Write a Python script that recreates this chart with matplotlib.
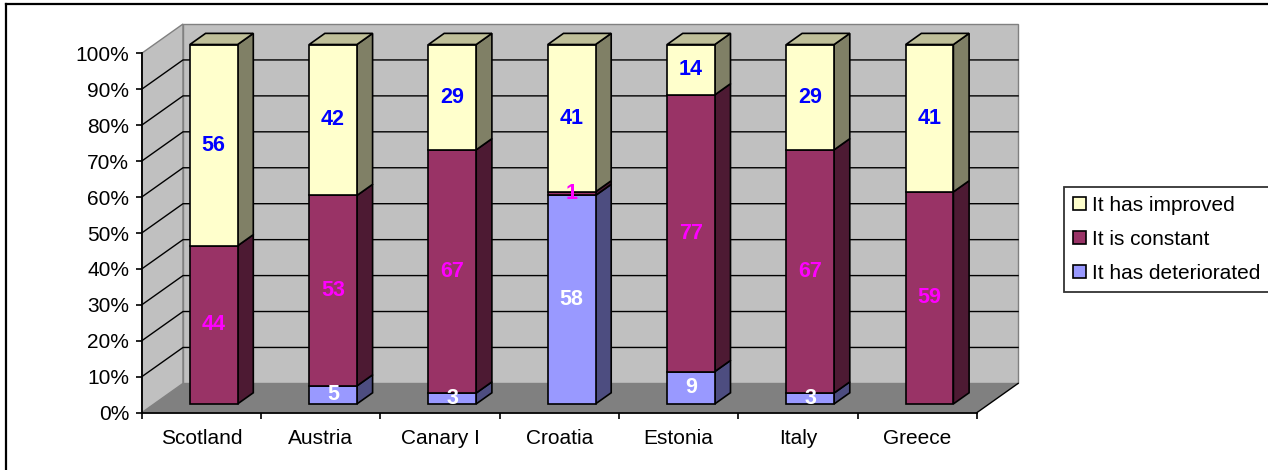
import matplotlib
matplotlib.use("Agg")
import matplotlib.pyplot as plt
from matplotlib.patches import Polygon
from matplotlib.lines import Line2D
import numpy as np

plt.rcParams['font.family'] = ['Liberation Sans', 'DejaVu Sans']

# ---------------- data ----------------
categories = ['Scotland', 'Austria', 'Canary I', 'Croatia', 'Estonia', 'Italy', 'Greece']
deteriorated = [0, 5, 3, 58, 9, 3, 0]
constant = [44, 53, 67, 1, 77, 67, 59]
improved = [56, 42, 29, 41, 14, 29, 41]
series_names = ['It has deteriorated', 'It is constant', 'It has improved']
y_ticks = [0, 10, 20, 30, 40, 50, 60, 70, 80, 90, 100]

# ---------------- style ----------------
front_cols = ['#9999FF', '#993366', '#FFFFCC']
side_cols = ['#4D4D80', '#4D1A33', '#808066']
top_cols = ['#7373BF', '#73264D', '#BFBF99']
label_cols = ['white', '#FF00FF', '#0000FF']

W, H, DPI = 1268, 470, 100
fig = plt.figure(figsize=(W / DPI, H / DPI), dpi=DPI)
ax = fig.add_axes([0, 0, 1, 1])
ax.patch.set_alpha(0)

# pixel geometry of the front plane
x0_px, cat_px = 141.7, 119.3
y0_px, pct_px = 412.7, 3.594
ax.set_xlim(-x0_px / cat_px, (W - x0_px) / cat_px)
ax.set_ylim((y0_px - H) / pct_px, y0_px / pct_px)

DX = 41.3 / cat_px      # depth offset in category units
DY = 29.3 / pct_px      # depth offset in percent units
n = len(categories)


def P(x, y, d):
    return (x + d * DX, y + d * DY)


# walls and floor
side_wall = Polygon([P(0, 0, 0), P(0, 100, 0), P(0, 100, 1), P(0, 0, 1)],
                    closed=True, facecolor='#C0C0C0', edgecolor='#808080', lw=1.0, zorder=0)
back_wall = Polygon([P(0, 0, 1), P(n, 0, 1), P(n, 100, 1), P(0, 100, 1)],
                    closed=True, facecolor='#C0C0C0', edgecolor='#808080', lw=1.0, zorder=0)
floor = Polygon([P(0, 0, 0), P(n, 0, 0), P(n, 0, 1), P(0, 0, 1)],
                closed=True, facecolor='#808080', edgecolor='none', zorder=0.5)
for p in (side_wall, back_wall, floor):
    ax.add_patch(p)
ax.plot([P(n, 0, 0)[0], P(n, 0, 1)[0]], [P(n, 0, 0)[1], P(n, 0, 1)[1]],
        color='black', lw=1.0, zorder=0.6)

for t in y_ticks[1:-1]:
    a, b, c = P(0, t, 0), P(0, t, 1), P(n, t, 1)
    ax.plot([a[0], b[0], c[0]], [a[1], b[1], c[1]], color='black', lw=1.0, zorder=0.4)

# bars
bw = 0.4
d0, d1 = 0.30, 0.68
values = [deteriorated, constant, improved]
handles = [None, None, None]
for i in range(n):
    total = sum(v[i] for v in values)
    xl = i + 0.5 - bw / 2
    xr = i + 0.5 + bw / 2
    base = 0.0
    segs = []
    for s in range(3):
        v = values[s][i]
        if v <= 0:
            continue
        h = v / total * 100
        segs.append((s, base, base + h, v))
        base += h
    for k, (s, yb, yt, v) in enumerate(segs):
        front = Polygon([P(xl, yb, d0), P(xr, yb, d0), P(xr, yt, d0), P(xl, yt, d0)],
                        closed=True, facecolor=front_cols[s], edgecolor='black',
                        lw=1.2, zorder=3, label=series_names[s])
        side = Polygon([P(xr, yb, d0), P(xr, yb, d1), P(xr, yt, d1), P(xr, yt, d0)],
                       closed=True, facecolor=side_cols[s], edgecolor='black', lw=1.2, zorder=3)
        ax.add_patch(side)
        ax.add_patch(front)
        if handles[s] is None:
            handles[s] = front
        if k == len(segs) - 1:
            top = Polygon([P(xl, yt, d0), P(xr, yt, d0), P(xr, yt, d1), P(xl, yt, d1)],
                          closed=True, facecolor=top_cols[s], edgecolor='black', lw=1.2, zorder=3)
            ax.add_patch(top)
        cx, cy = P(i + 0.5, (yb + yt) / 2, d0)
        ax.text(cx, cy, str(v), ha='center', va='center', color=label_cols[s],
                fontsize=15.5, fontweight='bold', zorder=6)

# axes (front plane)
for sp in ('top', 'right'):
    ax.spines[sp].set_visible(False)
ax.spines['left'].set_position(('data', 0))
ax.spines['bottom'].set_position(('data', 0))
ax.spines['left'].set_bounds(0, 100)
ax.spines['bottom'].set_bounds(0, n)
for sp in ('left', 'bottom'):
    ax.spines[sp].set_linewidth(1.3)
    ax.spines[sp].set_zorder(4)
ax.set_yticks(y_ticks)
ax.set_yticklabels([f'{t}%' for t in y_ticks])
ax.set_xticks(np.arange(n + 1))
ax.set_xticklabels([])
ax.set_xticks(np.arange(n) + 0.5, minor=True)
ax.set_xticklabels(categories, minor=True)
ax.tick_params(axis='y', direction='out', length=4, width=1.2, pad=5, labelsize=15)
ax.tick_params(axis='x', which='major', direction='out', length=4, width=1.2)
ax.tick_params(axis='x', which='minor', length=0, pad=12, labelsize=15)

# legend
order = [2, 1, 0]
leg = ax.legend([handles[s] for s in order], [series_names[s] for s in order],
                loc='upper left', bbox_to_anchor=(1064 / W, 1 - 186.7 / H),
                bbox_transform=fig.transFigure, fontsize=15, frameon=True,
                fancybox=False, shadow=False, borderpad=0.45, labelspacing=0.72,
                handlelength=0.6, handleheight=0.6, handletextpad=0.3,
                borderaxespad=0)
leg.get_frame().set_edgecolor('black')
leg.get_frame().set_linewidth(1.3)

# outer chart border (partly outside the picture)
fig.add_artist(Line2D([6 / W, 6 / W], [0, 1 - 4 / H], transform=fig.transFigure,
                      color='black', lw=1.6))
fig.add_artist(Line2D([6 / W, 1], [1 - 4 / H, 1 - 4 / H], transform=fig.transFigure,
                      color='black', lw=1.6))

fig.savefig('out.png', dpi=DPI, facecolor='white')
